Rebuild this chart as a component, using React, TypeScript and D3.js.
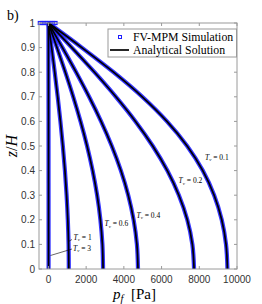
import React from 'react';
import * as d3 from 'd3';

// z/H levels (0 = bottom, 1 = top) at which the profiles are read
const zLevels = [0, 0.1, 0.2, 0.3, 0.4, 0.5, 0.6, 0.7, 0.8, 0.9, 1];
// pore pressure p_f [Pa] for each time factor T_v
const pTv01 = [9493, 9419, 9190, 8788, 8185, 7356, 6285, 4975, 3452, 1769, 0];
const pTv02 = [7723, 7633, 7364, 6918, 6304, 5532, 4617, 3578, 2442, 1239, 0];
const pTv04 = [4750, 4692, 4518, 4232, 3843, 3359, 2792, 2157, 1468, 743, 0];
const pTv06 = [2898, 2862, 2756, 2582, 2344, 2049, 1703, 1316, 896, 453, 0];
const pTv1 = [1081, 1068, 1028, 963, 875, 764, 635, 491, 334, 169, 0];
const pTv3 = [8, 8, 7, 7, 6, 6, 5, 4, 2, 1, 0];
const seriesValues = [pTv01, pTv02, pTv04, pTv06, pTv1, pTv3];
// simulation particles sitting on the drained top surface
const topSimP = [-430, -300, -170, -40, 90, 220, 350];

const tvLabels = ['0.1', '0.2', '0.4', '0.6', '1', '3'];
const labelP = [8303, 6898, 4670, 2973, 1330, 1303];
const labelZ = [0.445, 0.3476, 0.2093, 0.1728, 0.1179, 0.0732];
const leaders = [
  [[1064, 0.1118], [1250, 0.12]],
  [[110, 0.0549], [1250, 0.0813]],
];

const xTicks = [0, 2000, 4000, 6000, 8000, 10000];
const yTicks = [0, 0.1, 0.2, 0.3, 0.4, 0.5, 0.6, 0.7, 0.8, 0.9, 1];

const W = 262;
const H = 304;
const L = 39, R = 237, T = 23, B = 269;

export default function App() {
  const x = d3.scaleLinear().domain([-500, 10000]).range([L, R]);
  const y = d3.scaleLinear().domain([0, 1]).range([B, T]);
  const line = d3
    .line<[number, number]>()
    .x((d) => x(d[0]))
    .y((d) => y(d[1]))
    .curve(d3.curveMonotoneY);
  const paths = seriesValues.map((vals) =>
    line(vals.map((p, i) => [p, zLevels[i]] as [number, number])) as string
  );
  const boxColor = '#9a9a9a';
  const tickColor = '#333';
  const blue = '#1f1fff';
  const serif = '"Liberation Serif", "DejaVu Serif", serif';
  const sans = '"Liberation Sans", Arial, sans-serif';
  const tl = 3;
  return (
    <svg
      width={W}
      height={H}
      style={{ position: 'absolute', left: 0, top: 0, background: '#fff' }}
    >
      <rect x={0} y={0} width={W} height={H} fill="#fff" />
      {/* curves: simulation (blue band) under analytical (black) */}
      {paths.map((d, i) => (
        <path key={'s' + i} d={d} fill="none" stroke={blue} strokeWidth={4.2} strokeOpacity={0.9} />
      ))}
      {topSimP.map((p, i) => (
        <rect key={'t' + i} x={x(p) - 2} y={y(1) - 1.5} width={4} height={3} fill="none" stroke={blue} strokeWidth={1.2} />
      ))}
      {paths.map((d, i) => (
        <path key={'a' + i} d={d} fill="none" stroke="#000" strokeWidth={1.7} />
      ))}
      {/* box */}
      <rect x={L} y={T} width={R - L} height={B - T} fill="none" stroke={boxColor} strokeWidth={1} />
      {xTicks.map((t) => (
        <g key={'xt' + t}>
          <line x1={x(t)} x2={x(t)} y1={B} y2={B - tl} stroke={boxColor} />
          <line x1={x(t)} x2={x(t)} y1={T} y2={T + tl} stroke={boxColor} />
          <text x={x(t)} y={B + 14} textAnchor="middle" fontFamily={sans} fontSize={10} fill={tickColor}>
            {t}
          </text>
        </g>
      ))}
      {yTicks.map((t) => (
        <g key={'yt' + t}>
          <line x1={L} x2={L + tl} y1={y(t)} y2={y(t)} stroke={boxColor} />
          <line x1={R} x2={R - tl} y1={y(t)} y2={y(t)} stroke={boxColor} />
          <text x={L - 4} y={y(t) + 3.5} textAnchor="end" fontFamily={sans} fontSize={10} fill={tickColor}>
            {String(t)}
          </text>
        </g>
      ))}
      {/* curve labels */}
      {tvLabels.map((lab, i) => (
        <text key={'l' + i} x={x(labelP[i])} y={y(labelZ[i])} fontFamily={serif} fontSize={7.5} fill="#000">
          <tspan fontStyle="italic">T</tspan>
          <tspan fontSize={5} dy={1.5} fontStyle="italic">v</tspan>
          <tspan dy={-1.5}>{' = ' + lab}</tspan>
        </text>
      ))}
      {leaders.map((ld, i) => (
        <line key={'ld' + i} x1={x(ld[0][0])} y1={y(ld[0][1])} x2={x(ld[1][0])} y2={y(ld[1][1])} stroke="#000" strokeWidth={0.6} />
      ))}
      {/* legend */}
      <rect x={108} y={29} width={128.5} height={28} fill="#fff" stroke={boxColor} strokeWidth={1} />
      <rect x={118.5} y={35.5} width={3} height={3} fill="none" stroke={blue} strokeWidth={1} />
      <line x1={110} x2={129} y1={50} y2={50} stroke="#000" strokeWidth={1.7} />
      <text x={133} y={40.5} fontFamily={serif} fontSize={11.8} fill="#000">FV-MPM Simulation</text>
      <text x={133} y={54} fontFamily={serif} fontSize={11.8} fill="#000">Analytical Solution</text>
      {/* axis labels */}
      <text x={113} y={299} fontFamily={serif} fontSize={15} fill="#000">
        <tspan fontStyle="italic">p</tspan>
        <tspan fontStyle="italic" fontSize={10.5} dy={3}>f</tspan>
        <tspan dy={-3}>{'\u2002[Pa]'}</tspan>
      </text>
      <text
        transform={`translate(17, ${(T + B) / 2}) rotate(-90)`}
        textAnchor="middle"
        fontFamily={serif}
        fontSize={16}
        fill="#000"
      >
        <tspan fontStyle="italic">z</tspan>
        <tspan>/</tspan>
        <tspan fontStyle="italic">H</tspan>
      </text>
      <text x={7} y={20} fontFamily={serif} fontSize={14} fill="#000">b)</text>
    </svg>
  );
}
